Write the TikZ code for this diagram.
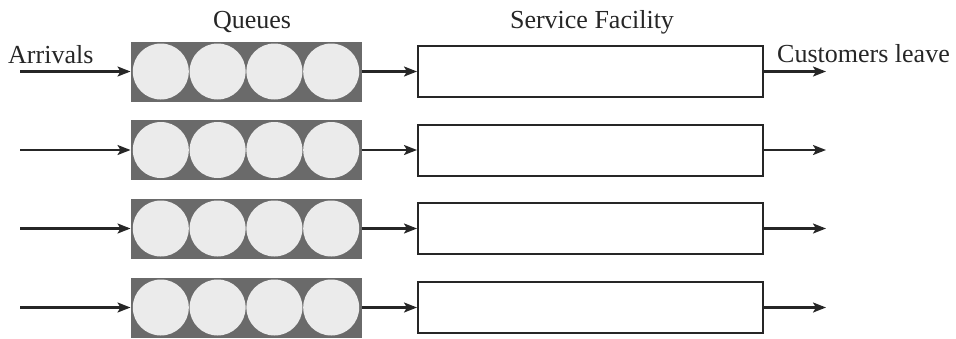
\documentclass[tikz,border=0pt]{standalone}
\usepackage{fontspec}
\setmainfont{Liberation Serif}
\usetikzlibrary{arrows.meta}
\definecolor{queuegray}{HTML}{6A6A6A}
\definecolor{ballgray}{HTML}{EBEBEB}
\definecolor{ink}{HTML}{262626}
\begin{document}
\begin{tikzpicture}[x=1pt,y=-1pt,
  every node/.style={font=\fontsize{26}{30}\selectfont, text=ink},
  queuebox/.style={rectangle, fill=queuegray, draw=queuegray, line width=1pt,
    minimum width=230pt, minimum height=59pt, inner sep=0pt},
  ball/.style={circle, fill=ballgray, minimum size=56pt, inner sep=0pt},
  server/.style={rectangle, draw=ink, line width=2pt, fill=white,
    minimum width=345pt, minimum height=51pt, inner sep=0pt},
  flow/.style={draw=ink, line width=2.2pt, -{Stealth[length=13pt,width=10pt,inset=3pt]}},
  title/.style={inner sep=0pt}]
\useasboundingbox (0,0) rectangle (956,338);

% four parallel lines: arrivals -> queue -> service facility -> departure
\foreach \i/\y in {1/71.5, 2/150, 3/228.5, 4/307.5}{
  \coordinate (in\i) at (20,\y);
  \node[queuebox] (q\i) at (246,\y) {};
  \foreach \k/\dx in {1/-85.2, 2/-28.4, 3/28.4, 4/85.2}{
    \node[ball] (b\i\k) at (246+\dx,\y) {};
  }
  \node[server] (s\i) at (590.5,\y) {};
  \coordinate (out\i) at (826,\y);
  \draw[flow] (in\i) -- (q\i.west);
  \draw[flow] (q\i.east) -- (s\i.west);
  \draw[flow] (s\i.east) -- (out\i);
}

% captions
\node[title, anchor=west] (arr) at (8,55) {Arrivals};
\node[title] (que) at (252,22) {Queues};
\node[title] (fac) at (592,22) {Service Facility};
\node[title, anchor=west] (lv) at (777,54) {Customers leave};
\end{tikzpicture}
\end{document}
